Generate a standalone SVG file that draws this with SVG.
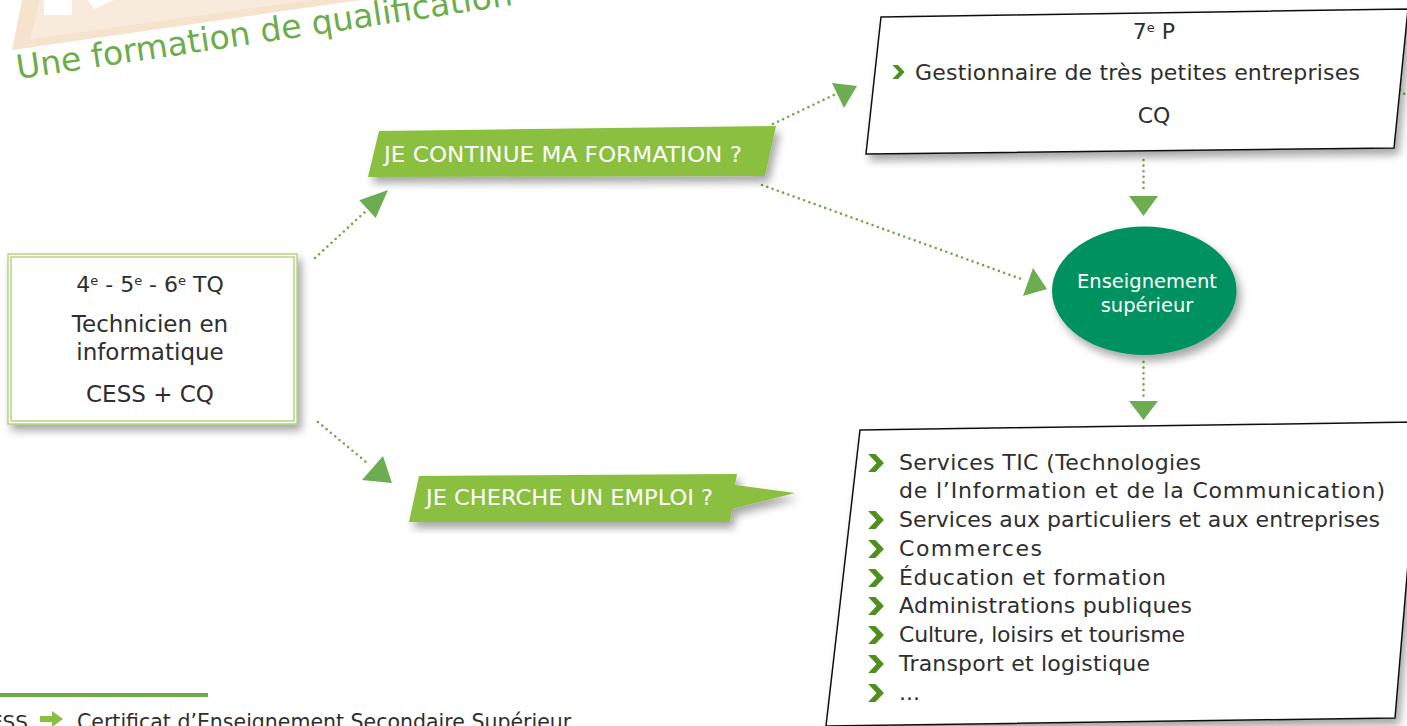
<svg xmlns="http://www.w3.org/2000/svg" width="1407" height="726" viewBox="0 0 1407 726">
<defs>
<filter id="sh" x="-10%" y="-10%" width="125%" height="135%">
<feDropShadow dx="4" dy="6" stdDeviation="4" flood-color="#000" flood-opacity="0.35"/>
</filter>
<symbol id="chev" viewBox="0 0 14 16" overflow="visible">
<polygon points="0,0 6.5,0 14,8 6.5,16 0,16 7.5,8" fill="#4e8f1e"/>
</symbol>
</defs>
<style>
.t{font-family:"DejaVu Sans","Liberation Sans",sans-serif;fill:#2e2e2e}
.l{font-family:"DejaVu Sans","Liberation Sans",sans-serif;fill:#2e2e2e;font-size:22px}
.w{font-family:"DejaVu Sans Condensed","DejaVu Sans",sans-serif;fill:#fff}
.dot{fill:none;stroke:#6aab45;stroke-width:2.6;stroke-dasharray:0 5.6;stroke-linecap:round}
.tri{fill:#6cad52}
.ban{fill:#8bbf3f}
</style>
<rect width="1407" height="726" fill="#fff"/>

<g id="logo">
<polygon points="22,0 360,0 12,50" fill="#f5e3cd"/>
<polygon points="40,0 310,0 40,38 30,40" fill="#f8ebdb"/>
<rect x="44" y="0" width="28" height="15" fill="#fff"/>
<polygon points="88,0 114,0 94,9" fill="#fff"/>
<text x="18" y="79" transform="rotate(-8.5 18 79)" font-family="'DejaVu Sans',sans-serif" font-size="33" fill="#6cad4b">Une formation de qualification</text>
</g>

<g id="connectors">
<polyline class="dot" points="315,258 366,211"/>
<polygon class="tri" points="388,190 375.7,217.9 359.3,200.3"/>
<polyline class="dot" points="773,124 836,94"/>
<polygon class="tri" points="857,86 832,83 844,108"/>
<polyline class="dot" points="762,185 1024,280"/>
<polygon class="tri" points="1047,289 1033,268 1023,296"/>
<polyline class="dot" points="318,422 366,462"/>
<polygon class="tri" points="392,483 383,456 362,480"/>
<polyline class="dot" points="1143.5,160 1143.5,193"/>
<polygon class="tri" points="1129,196 1158,196 1143.5,216"/>
<polyline class="dot" points="1143.5,362 1143.5,397"/>
<polygon class="tri" points="1129,401 1158,401 1143.5,420"/>
<polyline class="dot" points="1400,90 1410,99"/>
</g>

<g id="node-tq">
<rect x="8" y="254" width="289" height="170" fill="#fff" stroke="#a9d06e" stroke-width="1.3" filter="url(#sh)"/>
<rect x="11" y="257" width="283" height="164" fill="none" stroke="#a9d06e" stroke-width="1.3"/>
<text class="t" font-size="22" text-anchor="middle"><tspan x="150" y="292">4<tspan font-size="13" baseline-shift="super">e</tspan> - 5<tspan font-size="13" baseline-shift="super">e</tspan> - 6<tspan font-size="13" baseline-shift="super">e</tspan> TQ</tspan></text>
<text class="t" font-size="23" text-anchor="middle" x="150" y="332">Technicien en</text>
<text class="t" font-size="23" text-anchor="middle" x="150" y="360">informatique</text>
<text class="t" font-size="23" text-anchor="middle" x="150" y="402">CESS + CQ</text>
</g>

<g id="banner-formation">
<polygon class="ban" points="379,131 776,126 765,176 368,177" filter="url(#sh)"/>
<text class="w" font-size="22" x="384" y="162" textLength="358" lengthAdjust="spacingAndGlyphs">JE CONTINUE MA FORMATION ?</text>
</g>

<g id="banner-emploi">
<polygon class="ban" points="419,476 737,474 735,485 795,493 732,509 730,522 409,522" filter="url(#sh)"/>
<text class="w" font-size="22" x="426" y="505" textLength="287" lengthAdjust="spacingAndGlyphs">JE CHERCHE UN EMPLOI ?</text>
</g>

<g id="node-7p">
<polygon points="881,17 1408,9 1394,148 866,154" fill="#fff" stroke="#111" stroke-width="1.5" filter="url(#sh)"/>
<text class="t" font-size="22" text-anchor="middle"><tspan x="1154" y="39">7<tspan font-size="13" baseline-shift="super">e</tspan> P</tspan></text>
<use href="#chev" x="892" y="65" width="13" height="14"/>
<text class="t" font-size="22" letter-spacing="0.2" x="915" y="80">Gestionnaire de très petites entreprises</text>
<text class="t" font-size="22" text-anchor="middle" x="1154" y="123">CQ</text>
</g>

<g id="node-sup">
<ellipse cx="1144.3" cy="290.8" rx="92.3" ry="64.2" fill="#009160" filter="url(#sh)"/>
<text x="1147" y="288" font-family="'DejaVu Sans',sans-serif" font-size="19.5" fill="#fff" text-anchor="middle">Enseignement</text>
<text x="1147" y="312" font-family="'DejaVu Sans',sans-serif" font-size="19.5" fill="#fff" text-anchor="middle">supérieur</text>
</g>

<g id="node-emplois">
<polygon points="860,430 1420,422 1395,718 826,726" fill="#fff" stroke="#111" stroke-width="1.5" filter="url(#sh)"/>
<g>
<use href="#chev" x="868" y="454" width="16" height="18"/>
<use href="#chev" x="868" y="511" width="16" height="18"/>
<use href="#chev" x="868" y="540" width="16" height="18"/>
<use href="#chev" x="868" y="569" width="16" height="18"/>
<use href="#chev" x="868" y="597" width="16" height="18"/>
<use href="#chev" x="868" y="626" width="16" height="18"/>
<use href="#chev" x="868" y="655" width="16" height="18"/>
<use href="#chev" x="868" y="684" width="16" height="18"/>
</g>
<text class="l" x="899" y="470" textLength="302">Services TIC (Technologies</text>
<text class="l" x="899" y="498" textLength="486">de l’Information et de la Communication)</text>
<text class="l" x="899" y="527" textLength="481">Services aux particuliers et aux entreprises</text>
<text class="l" x="899" y="556" textLength="143">Commerces</text>
<text class="l" x="899" y="585" textLength="267">Éducation et formation</text>
<text class="l" x="899" y="613" textLength="293">Administrations publiques</text>
<text class="l" x="899" y="642" textLength="286">Culture, loisirs et tourisme</text>
<text class="l" x="899" y="671" textLength="251">Transport et logistique</text>
<text class="l" x="899" y="700">...</text>
</g>

<g id="legend">
<rect x="0" y="693" width="208" height="4" fill="#6aab45"/>
<text class="t" font-size="20" x="28" y="729" text-anchor="end">CESS</text>
<polygon points="40,716 52,716 52,711 63,719 52,727 52,722 40,722" fill="#8bbf3f"/>
<text class="t" font-size="20.5" x="77" y="729">Certificat d’Enseignement Secondaire Supérieur</text>
</g>
</svg>
